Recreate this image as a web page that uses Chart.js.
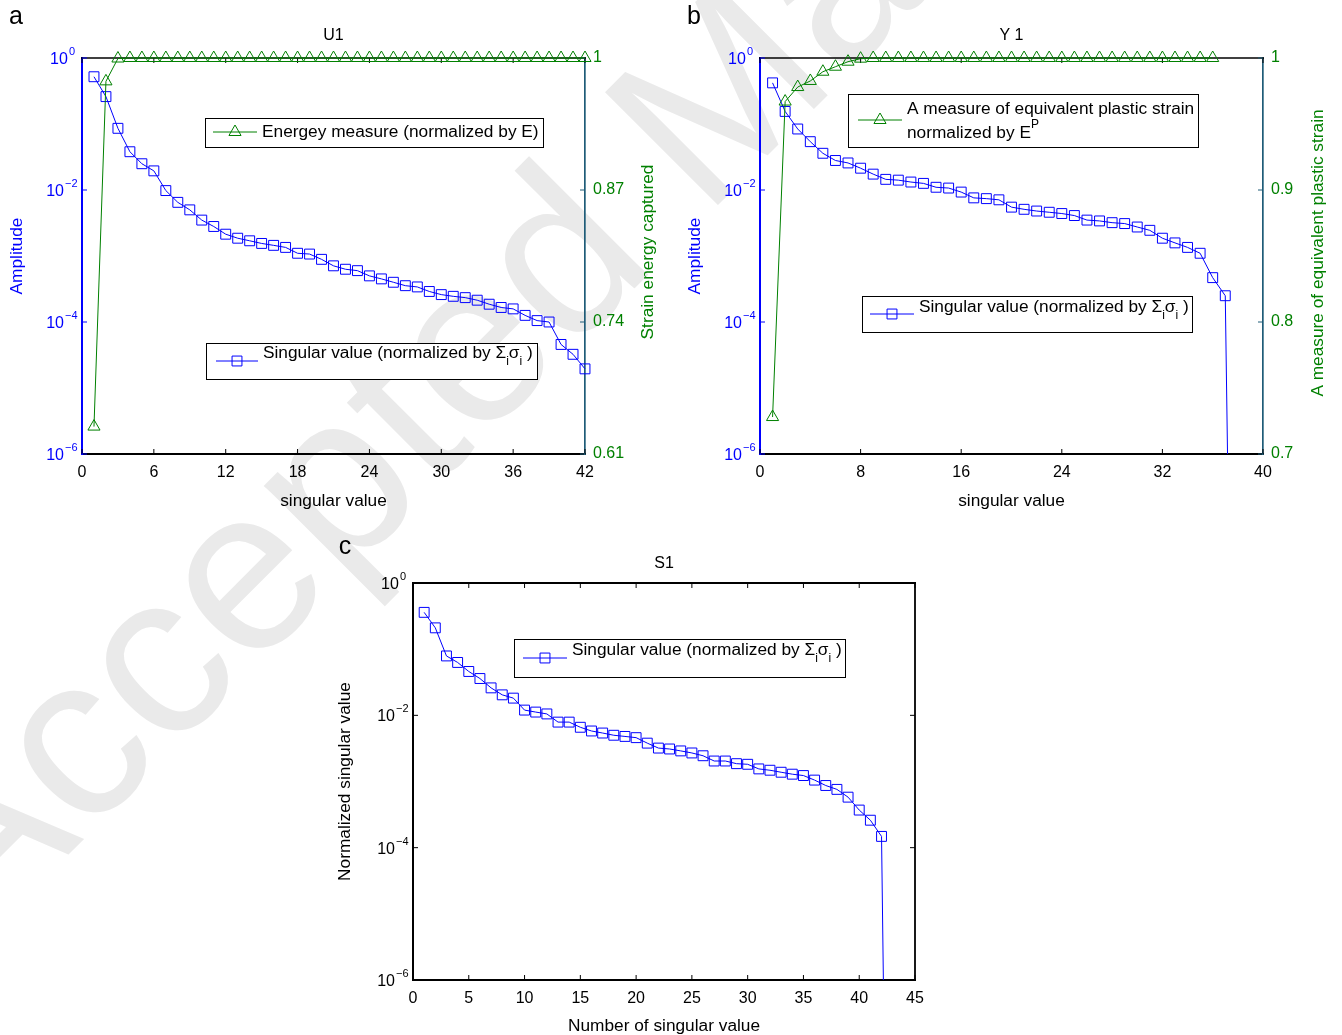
<!DOCTYPE html>
<html>
<head>
<meta charset="utf-8">
<title>Singular value spectra U1 / Y 1 / S1</title>
<script src="https://cdn.jsdelivr.net/npm/chart.js@4.4.1/dist/chart.umd.min.js"></script>
<style>
    html, body { margin: 0; padding: 0; background: #fff; overflow: hidden; }
    #page { position: relative; width: 1342px; height: 1035px; overflow: hidden; }
    #page canvas { position: absolute; left: 0; top: 0; }
    #stamp {
        position: absolute;
        left: -25px;
        top: 752px;
        font-family: 'Liberation Sans', Arial, Helvetica, sans-serif;
        font-size: 232px;
        line-height: 232px;
        white-space: nowrap;
        color: rgb(234, 234, 234);
        transform-origin: 0 196px;
        transform: rotate(-45deg);
    }
</style>
</head>
<body>
<div id="page">
    <div id="stamp">Accepted Manuscript</div>
    <canvas id="chartU1" width="1342" height="1035"></canvas>
    <canvas id="chartY1" width="1342" height="1035"></canvas>
    <canvas id="chartS1" width="1342" height="1035"></canvas>
</div>
<script>
/**
 * Normalized singular values (log axis) with the captured energy / plastic
 * strain measure on a second axis, for the U1, Y 1 and S1 fields.
 */

// U1: singular values (normalized by sum of sigma_i)
const singularU1 = [
    0.52, 0.26, 0.086, 0.038, 0.025, 0.0195, 0.0098, 0.0065, 0.0050, 0.0035,
    0.0028, 0.00214, 0.00186, 0.00170, 0.00155, 0.00145, 0.00135, 0.00110, 0.00107, 0.00089,
    0.00071, 0.00063, 0.00060, 0.00050, 0.00045, 0.00040, 0.000355, 0.00034, 0.00029, 0.00026,
    0.000245, 0.000234, 0.000214, 0.000186, 0.000166, 0.000158, 0.000126, 0.000105, 0.000100, 0.0000457,
    0.0000324, 0.0000195
];

// U1: strain energy captured (normalized by E)
const energyU1 = [
    0.637, 0.977, 0.9995, 1, 1, 1, 1, 1, 1, 1,
    1, 1, 1, 1, 1, 1, 1, 1, 1, 1,
    1, 1, 1, 1, 1, 1, 1, 1, 1, 1,
    1, 1, 1, 1, 1, 1, 1, 1, 1, 1,
    1, 1
];

// Y 1: singular values, the last one is numerically zero
const singularY1 = [
    0.42, 0.155, 0.084, 0.054, 0.036, 0.028, 0.0257, 0.0214, 0.0174, 0.0145,
    0.0141, 0.0132, 0.0126, 0.0110, 0.0107, 0.0093, 0.0076, 0.0074, 0.0071, 0.0055,
    0.0051, 0.0048, 0.0046, 0.0044, 0.0041, 0.0035, 0.0034, 0.0032, 0.0031, 0.00275,
    0.00245, 0.00186, 0.00158, 0.00135, 0.00110, 0.00047, 0.00025, 1e-17
];

// Y 1: equivalent plastic strain measure (normalized by E^P)
const plasticY1 = [
    0.728, 0.967, 0.978, 0.9826, 0.9896, 0.9934, 0.9972, 0.9995, 1, 1,
    1, 1, 1, 1, 1, 1, 1, 1, 1, 1,
    1, 1, 1, 1, 1, 1, 1, 1, 1, 1,
    1, 1, 1, 1, 1, 1
];

// S1: singular values, the last one is numerically zero
const singularS1 = [
    0.36, 0.21, 0.079, 0.063, 0.046, 0.036, 0.026, 0.0204, 0.0182, 0.0120,
    0.0112, 0.0105, 0.0079, 0.0079, 0.0066, 0.0058, 0.0054, 0.0050, 0.0048, 0.0046,
    0.0038, 0.0032, 0.0031, 0.0029, 0.0027, 0.00245, 0.00204, 0.00204, 0.00186, 0.00182,
    0.00155, 0.00148, 0.00138, 0.00129, 0.00123, 0.00105, 0.00087, 0.00076, 0.00058, 0.00037,
    0.00026, 0.000148, 1e-17
];

// axis ticks
const LOG_EXPONENTS = [0, -2, -4, -6];
const RIGHT_TICKS_U1 = [0.61, 0.74, 0.87, 1];
const RIGHT_TICKS_Y1 = [0.7, 0.8, 0.9, 1];

const FONT = "'Liberation Sans', Arial, Helvetica, sans-serif";
const BLUE = '#0000ff';
const GREEN = '#008000';
const TEAL = '#1f5c78';
const TICK = 5;
const MARKER = 7;
const TEXT_SIZE = 17.3;   // axis titles and legend entries
const TICK_SIZE = 16;     // tick labels and panel titles

Chart.defaults.font.family = FONT;
Chart.defaults.font.size = TICK_SIZE;

const SIGMA_LABEL = [
    { t: 'Singular value (normalized by \u03a3' },
    { t: 'i', sub: true },
    { t: '\u03c3' },
    { t: 'i', sub: true },
    { t: ' )' }
];

function pts(values) {
    return values.map((v, i) => ({ x: i + 1, y: v }));
}

function line(ctx, x1, y1, x2, y2) {
    ctx.beginPath();
    ctx.moveTo(x1, y1);
    ctx.lineTo(x2, y2);
    ctx.stroke();
}

function label(ctx, str, x, y, color, size, rot) {
    ctx.save();
    ctx.translate(x, y);
    if (rot) ctx.rotate(rot);
    ctx.fillStyle = color;
    ctx.font = size + 'px ' + FONT;
    ctx.textAlign = 'center';
    ctx.textBaseline = 'middle';
    ctx.fillText(str, 0, 0);
    ctx.restore();
}

// text with sub/superscripts, drawn left to right
function richText(ctx, segs, x, y) {
    ctx.textAlign = 'left';
    ctx.textBaseline = 'middle';
    ctx.fillStyle = '#000';
    segs.forEach(sg => {
        const small = sg.sub || sg.sup;
        ctx.font = (small ? 12 : TEXT_SIZE) + 'px ' + FONT;
        const dy = sg.sub ? 8.5 : (sg.sup ? -8.5 : 0);
        ctx.fillText(sg.t, x, y + dy);
        x += ctx.measureText(sg.t).width;
    });
}

function drawLegend(ctx, lg) {
    const [x1, y1, x2, y2] = lg.box;
    ctx.save();
    ctx.fillStyle = '#fff';
    ctx.fillRect(x1, y1, x2 - x1, y2 - y1);
    ctx.strokeStyle = '#000';
    ctx.lineWidth = 1;
    ctx.strokeRect(x1 + 0.5, y1 + 0.5, x2 - x1, y2 - y1);

    const s = lg.sample;
    ctx.strokeStyle = s.color;
    line(ctx, s.x1, s.y, s.x2, s.y);
    ctx.fillStyle = 'rgba(0,0,0,0)';
    Chart.helpers.drawPoint(ctx, { pointStyle: s.style, radius: MARKER, rotation: 0, borderWidth: 1 },
        (s.x1 + s.x2) / 2, s.y);

    lg.lines.forEach(ln => richText(ctx, ln.segs, ln.x, ln.y));
    ctx.restore();
}

/**
 * MATLAB style frame: box, inward ticks, 10^n labels, titles and legends
 */
function frame(spec) {
    return {
        id: 'frame',
        beforeDatasetsDraw(chart) {
            const ctx = chart.ctx;
            const a = chart.chartArea;
            const xs = chart.scales.x;
            const ys = chart.scales.y;
            const y2 = chart.scales.y2;
            ctx.save();
            ctx.strokeStyle = '#000';
            ctx.lineWidth = spec.boxWidth;
            line(ctx, a.left - 1, a.top, a.right + 1, a.top);
            if (!y2) line(ctx, a.right, a.top, a.right, a.bottom + 1);

            ctx.lineWidth = 1;
            xs.ticks.forEach(t => {
                const px = xs.getPixelForValue(t.value);
                line(ctx, px, a.bottom, px, a.bottom - TICK);
                line(ctx, px, a.top, px, a.top + TICK);
            });

            ctx.strokeStyle = spec.leftColor;
            LOG_EXPONENTS.forEach(e => {
                const py = ys.getPixelForValue(Math.pow(10, e));
                line(ctx, a.left, py, a.left + TICK, py);
                if (!y2) line(ctx, a.right, py, a.right - TICK, py);
            });

            if (y2) {
                ctx.strokeStyle = spec.rightColor;
                y2.ticks.forEach(t => {
                    const py = y2.getPixelForValue(t.value);
                    line(ctx, a.right, py, a.right - TICK, py);
                });
            }
            ctx.restore();
        },
        afterDraw(chart) {
            const ctx = chart.ctx;
            const a = chart.chartArea;
            const ys = chart.scales.y;
            const cx = (a.left + a.right) / 2;
            const cy = (a.top + a.bottom) / 2;
            ctx.save();

            // log axis labels as 10 with a raised exponent
            LOG_EXPONENTS.forEach(e => {
                const py = ys.getPixelForValue(Math.pow(10, e));
                const exp = e === 0 ? '0' : '\u2212' + (-e);
                const right = a.left - (e === 0 ? 7 : 4.5);
                ctx.fillStyle = spec.leftColor;
                ctx.textAlign = 'right';
                ctx.textBaseline = 'middle';
                ctx.font = '11px ' + FONT;
                ctx.fillText(exp, right, py - 6);
                const w = ctx.measureText(exp).width;
                ctx.font = TICK_SIZE + 'px ' + FONT;
                ctx.fillText('10', right - w - 1, py + 1.5);
            });

            label(ctx, spec.letter.text, spec.letter.x, spec.letter.y, '#000', 25);
            label(ctx, spec.title, cx, spec.titleY, '#000', TICK_SIZE);
            label(ctx, spec.xTitle, cx, spec.xTitleY, '#000', TEXT_SIZE);
            label(ctx, spec.yTitle.text, spec.yTitle.x, cy, spec.yTitle.color, TEXT_SIZE, -Math.PI / 2);
            if (spec.y2Title) {
                label(ctx, spec.y2Title.text, spec.y2Title.x, spec.y2Title.y, GREEN, TEXT_SIZE, -Math.PI / 2);
            }

            spec.legends.forEach(lg => drawLegend(ctx, lg));
            ctx.restore();
        }
    };
}

function buildChart(canvasId, opts) {
    const xScale = {
        type: 'linear',
        min: 0,
        max: opts.xMax,
        ticks: { stepSize: opts.xStep, color: '#000', font: { size: TICK_SIZE }, padding: 9, maxRotation: 0 },
        grid: { display: false, drawTicks: false },
        border: { display: true, color: '#000', width: 2 },
        afterFit: s => { s.height = 1035 - opts.area.bottom; }
    };
    const yScale = {
        type: 'logarithmic',
        position: 'left',
        min: 1e-6,
        max: 1,
        ticks: { display: false },
        grid: { display: false, drawTicks: false },
        border: { display: true, color: opts.leftColor, width: 2 },
        afterFit: s => { s.width = opts.area.left; }
    };
    const scales = { x: xScale, y: yScale };

    if (opts.rightTicks) {
        scales.y2 = {
            type: 'linear',
            position: 'right',
            min: opts.rightTicks[0],
            max: opts.rightTicks[opts.rightTicks.length - 1],
            afterBuildTicks: s => { s.ticks = opts.rightTicks.map(v => ({ value: v })); },
            ticks: { color: GREEN, font: { size: TICK_SIZE }, padding: 8, autoSkip: false, callback: v => String(v) },
            grid: { display: false, drawTicks: false },
            border: { display: true, color: TEAL, width: 1.7 },
            afterFit: s => { s.width = 1342 - opts.area.right; }
        };
    }

    const datasets = [];
    if (opts.measure) {
        datasets.push({
            label: opts.measureLabel,
            data: pts(opts.measure),
            yAxisID: 'y2',
            borderColor: GREEN,
            borderWidth: 1,
            pointStyle: 'triangle',
            pointRadius: MARKER,
            pointBorderColor: GREEN,
            pointBackgroundColor: 'rgba(0,0,0,0)',
            pointBorderWidth: 1,
            tension: 0,
            clip: false
        });
    }
    datasets.push({
        label: 'Singular value',
        data: pts(opts.singular),
        yAxisID: 'y',
        borderColor: BLUE,
        borderWidth: 1,
        pointStyle: 'rect',
        pointRadius: MARKER,
        pointBorderColor: BLUE,
        pointBackgroundColor: 'rgba(0,0,0,0)',
        pointBorderWidth: 1,
        tension: 0,
        clip: { left: 8, top: 8, right: 8, bottom: 0 }
    });

    return new Chart(document.getElementById(canvasId), {
        type: 'line',
        data: { datasets },
        options: {
            responsive: false,
            animation: false,
            events: [],
            layout: {
                padding: { top: opts.area.top, left: 0, right: opts.rightTicks ? 0 : 1342 - opts.area.right, bottom: 0 }
            },
            plugins: {
                legend: { display: false },
                tooltip: { enabled: false },
                title: { display: false }
            },
            scales
        },
        plugins: [frame(opts.frame)]
    });
}

buildChart('chartU1', {
    area: { left: 82, right: 585, top: 58, bottom: 454 },
    xMax: 42,
    xStep: 6,
    leftColor: BLUE,
    rightTicks: RIGHT_TICKS_U1,
    singular: singularU1,
    measure: energyU1,
    measureLabel: 'Energey measure (normalized by E)',
    frame: {
        boxWidth: 1.5,
        leftColor: BLUE,
        rightColor: TEAL,
        letter: { text: 'a', x: 16, y: 17 },
        title: 'U1',
        titleY: 36,
        xTitle: 'singular value',
        xTitleY: 501,
        yTitle: { text: 'Amplitude', x: 17, color: BLUE },
        y2Title: { text: 'Strain energy captured', x: 648, y: 252 },
        legends: [
            {
                box: [205, 118, 543, 147],
                sample: { x1: 213, x2: 257, y: 132, style: 'triangle', color: GREEN },
                lines: [{ x: 262, y: 132.5, segs: [{ t: 'Energey measure (normalized by E)' }] }]
            },
            {
                box: [206, 343, 537, 379],
                sample: { x1: 216, x2: 258, y: 361, style: 'rect', color: BLUE },
                lines: [{ x: 263, y: 353.5, segs: SIGMA_LABEL }]
            }
        ]
    }
});

buildChart('chartY1', {
    area: { left: 760, right: 1263, top: 58, bottom: 454 },
    xMax: 40,
    xStep: 8,
    leftColor: BLUE,
    rightTicks: RIGHT_TICKS_Y1,
    singular: singularY1,
    measure: plasticY1,
    measureLabel: 'A measure of equivalent plastic strain normalized by EP',
    frame: {
        boxWidth: 1.5,
        leftColor: BLUE,
        rightColor: TEAL,
        letter: { text: 'b', x: 694, y: 17 },
        title: 'Y 1',
        titleY: 36,
        xTitle: 'singular value',
        xTitleY: 501,
        yTitle: { text: 'Amplitude', x: 695, color: BLUE },
        y2Title: { text: 'A measure of equivalent plastic strain', x: 1318, y: 253 },
        legends: [
            {
                box: [848, 94, 1198, 147],
                sample: { x1: 858, x2: 902, y: 120, style: 'triangle', color: GREEN },
                lines: [
                    { x: 907, y: 109, segs: [{ t: 'A measure of equivalent plastic strain' }] },
                    { x: 907, y: 133, segs: [{ t: 'normalized by E' }, { t: 'P', sup: true }] }
                ]
            },
            {
                box: [862, 296, 1192, 332],
                sample: { x1: 870, x2: 914, y: 314, style: 'rect', color: BLUE },
                lines: [{ x: 919, y: 307, segs: SIGMA_LABEL }]
            }
        ]
    }
});

buildChart('chartS1', {
    area: { left: 413, right: 915, top: 583, bottom: 980 },
    xMax: 45,
    xStep: 5,
    leftColor: '#000',
    rightTicks: null,
    singular: singularS1,
    measure: null,
    frame: {
        boxWidth: 1.8,
        leftColor: '#000',
        letter: { text: 'c', x: 345, y: 547 },
        title: 'S1',
        titleY: 564,
        xTitle: 'Number of singular value',
        xTitleY: 1026,
        yTitle: { text: 'Normalized singular value', x: 345, color: '#000' },
        y2Title: null,
        legends: [
            {
                box: [514, 639, 845, 677],
                sample: { x1: 523, x2: 567, y: 658, style: 'rect', color: BLUE },
                lines: [{ x: 572, y: 650, segs: SIGMA_LABEL }]
            }
        ]
    }
});
</script>
</body>
</html>
